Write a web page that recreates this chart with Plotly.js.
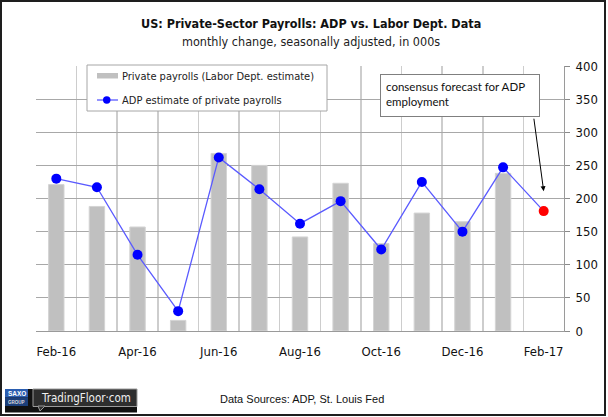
<!DOCTYPE html>
<html>
<head>
<meta charset="utf-8">
<script src="https://cdn.plot.ly/plotly-3.0.1.min.js"></script>
<style>
html,body{margin:0;padding:0;background:#fff;}
#wrap{position:relative;width:608px;height:417px;overflow:hidden;}
#chart{position:absolute;left:0;top:0;width:608px;height:417px;}
#frame{position:absolute;left:0;top:0;width:602px;height:412px;border:2px solid #1e1e1e;pointer-events:none;}
</style>
</head>
<body>
<div id="wrap"><div id="chart"></div><div id="frame"></div></div>
<script>
// ---- data ----
const months = ['Feb-16','Mar-16','Apr-16','May-16','Jun-16','Jul-16','Aug-16','Sep-16','Oct-16','Nov-16','Dec-16','Jan-17','Feb-17'];
const tickLabels = ['Feb-16','','Apr-16','','Jun-16','','Aug-16','','Oct-16','','Dec-16','','Feb-17'];
const laborDept = [221, 188, 157, 16, 268, 250, 142, 223, 132, 178, 165, 238, null];
const adp = [230, 217, 115, 30, 262, 214, 162, 196, 123, 225, 150, 247, 181];
const yTicks = [0, 50, 100, 150, 200, 250, 300, 350, 400];

// ---- layout helpers (pixel -> paper) ----
const L = 36, R = 564, T = 66, B = 331;
const W = R - L, H = B - T;
const px = x => (x - L) / W;
const py = y => (B - y) / H;

const FONT = "'DejaVu Sans Condensed', 'DejaVu Sans', sans-serif";
const blue = '#0000ff', red = '#ff0000';
const adpColors = adp.map((v, i) => i === adp.length - 1 ? red : blue);

const traces = [
  {
    type: 'bar', x: months, y: laborDept, name: 'Private payrolls (Labor Dept. estimate)',
    width: 0.38,
    marker: {color: '#c0c0c0', line: {color: '#d4d4d4', width: 1}},
    showlegend: false, hoverinfo: 'x+y'
  },
  {
    type: 'scatter', mode: 'lines+markers', x: months, y: adp, name: 'ADP estimate of private payrolls',
    line: {color: '#5a5aff', width: 1.3},
    marker: {color: adpColors, size: 10},
    showlegend: false
  }
];

function rect(x0, y0, x1, y1, fill, line, lw) {
  return {type: 'rect', xref: 'paper', yref: 'paper', x0: px(x0), x1: px(x1), y0: py(y0), y1: py(y1),
          fillcolor: fill, line: {color: line || fill, width: lw === undefined ? 0 : lw}, layer: 'above'};
}
function txt(x, y, text, size, opts) {
  return Object.assign({xref: 'paper', yref: 'paper', x: px(x), y: py(y), text: text, showarrow: false,
          xanchor: 'left', yanchor: 'middle', font: {family: FONT, size: size, color: '#000'}}, opts || {});
}

const shapes = [
  // legend box
  rect(87, 65, 327, 111, '#ffffff', '#a6a6a6', 1),
  rect(97, 73, 118, 78.5, '#c0c0c0'),
  {type: 'line', xref: 'paper', yref: 'paper', x0: px(97), x1: px(118), y0: py(100), y1: py(100), line: {color: '#5a5aff', width: 1.3}, layer: 'above'},
  {type: 'circle', xref: 'paper', yref: 'paper', x0: px(103), x1: px(110.5), y0: py(96.3), y1: py(103.7), fillcolor: blue, line: {color: blue, width: 0}, layer: 'above'},
  // logo
  rect(5, 389, 137, 412.5, '#111111'),
  rect(5, 389, 28, 397.5, '#2a5db0'),
  rect(5, 397.5, 28, 406, '#1c3f7a'),
  rect(33, 389, 137, 406.5, '#2e2e2e', '#9a9a9a', 1),
  {type: 'path', xref: 'paper', yref: 'paper', path: 'M' + px(38) + ',' + py(406) + ' L' + px(40) + ',' + py(411) + ' L' + px(45) + ',' + py(406) + ' Z', fillcolor: '#2e2e2e', line: {color: '#9a9a9a', width: 1}, layer: 'above'}
];

const annotations = [
  txt(311, 23, '<b>US: Private-Sector Payrolls: ADP vs. Labor Dept. Data</b>', 12.5, {xanchor: 'center', font: {family: FONT, size: 12.5, color: '#111'}}),
  txt(311, 41, 'monthly change, seasonally adjusted, in 000s', 12.5, {xanchor: 'center', font: {family: FONT, size: 12.5, color: '#222'}}),
  txt(120, 76.5, 'Private payrolls (Labor Dept. estimate)', 11, {font: {family: FONT, size: 11, color: '#222'}}),
  txt(120, 100.5, 'ADP estimate of private payrolls', 11, {font: {family: FONT, size: 11, color: '#222'}}),
  // forecast note box
  {xref: 'paper', yref: 'paper', x: px(380), y: py(74), xanchor: 'left', yanchor: 'top',
   text: 'consensus forecast for ADP<br>employment', showarrow: false, align: 'left', valign: 'top',
   width: 148, height: 31, borderpad: 5, borderwidth: 1, bordercolor: '#7f7f7f', bgcolor: '#ffffff',
   font: {family: "Lato, 'Open Sans', sans-serif", size: 11.5, color: '#111'}},
  // arrow
  {xref: 'x', yref: 'y', x: 'Feb-17', y: 211, ax: -10, ay: -74, text: '', showarrow: true,
   arrowhead: 2, arrowsize: 1, arrowwidth: 1, arrowcolor: '#000'},
  // sources
  txt(302, 399, 'Data Sources: ADP, St. Louis Fed', 11, {xanchor: 'center', font: {family: "'Liberation Sans', Arial, sans-serif", size: 11, color: '#111'}}),
  // logo text
  txt(16.5, 393.5, '<b>SAXO</b>', 6.5, {xanchor: 'center', font: {family: "'Liberation Sans', Arial, sans-serif", size: 6.5, color: '#ffffff'}}),
  txt(16.5, 402, '<b>GROUP</b>', 4.5, {xanchor: 'center', font: {family: "'Liberation Sans', Arial, sans-serif", size: 4.5, color: '#dddddd'}}),
  txt(85.5, 398, 'TradingFloor·com', 11.5, {xanchor: 'center', font: {family: FONT, size: 11.5, color: '#f0f0f0'}})
];

const layout = {
  width: 608, height: 417,
  margin: {l: L, r: 608 - R, t: T, b: 417 - B, pad: 0},
  paper_bgcolor: '#ffffff', plot_bgcolor: '#ffffff',
  showlegend: false,
  bargap: 0.62,
  xaxis: {
    type: 'category', tickmode: 'array', tickvals: months, ticktext: tickLabels,
    tickson: 'boundaries', ticks: '', tickangle: 0, showgrid: true, gridcolor: '#cdcdcd', gridwidth: 1.5,
    showline: true, linecolor: '#9a9a9a', linewidth: 1, zeroline: false,
    ticklabelstandoff: 8,
    tickfont: {family: FONT, size: 13, color: '#111'},
    range: [-0.5, 12.5], fixedrange: true
  },
  yaxis: {
    side: 'right', range: [0, 400], tickmode: 'array', tickvals: yTicks, ticktext: yTicks.map(String),
    ticks: 'outside', ticklen: 5, tickcolor: '#8a8a8a', ticklabelstandoff: 3,
    showgrid: true, gridcolor: '#a8a8a8', gridwidth: 1, zeroline: false,
    showline: true, linecolor: '#9a9a9a', linewidth: 1,
    tickfont: {family: FONT, size: 13, color: '#111'}, fixedrange: true
  },
  shapes: shapes,
  annotations: annotations
};

Plotly.newPlot('chart', traces, layout, {displayModeBar: false, staticPlot: true});
</script>
</body>
</html>
